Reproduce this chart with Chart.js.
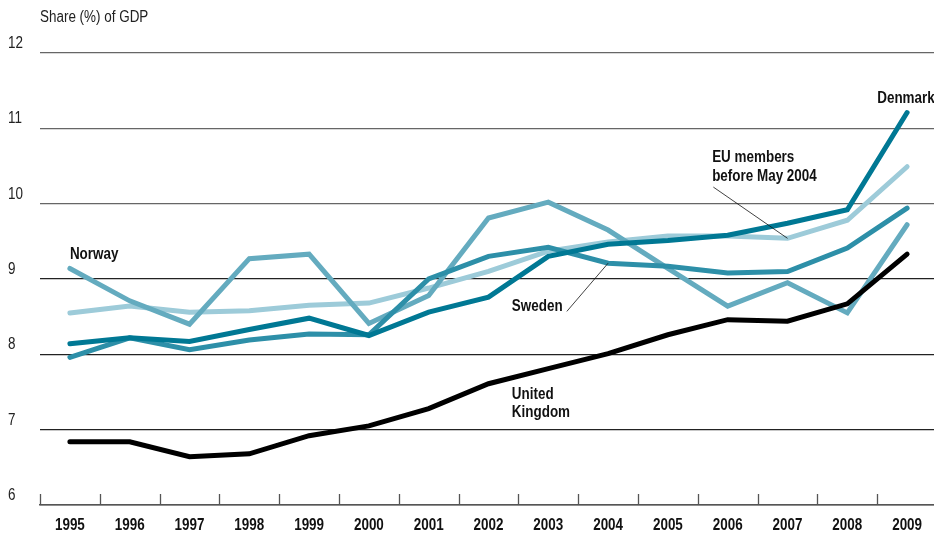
<!DOCTYPE html>
<html>
<head>
<meta charset="utf-8">
<script src="https://cdn.jsdelivr.net/npm/chart.js@4"></script>
<style>
  html, body { margin: 0; padding: 0; overflow: hidden; background: #fff; }
  #wrap { width: 937px; height: 538px; }
</style>
</head>
<body>
<div id="wrap"><canvas id="gdpChart" width="937" height="538"></canvas></div>
<script>
const years = ['1995', '1996', '1997', '1998', '1999', '2000', '2001', '2002',
               '2003', '2004', '2005', '2006', '2007', '2008', '2009'];

const denmark = [8.14, 8.22, 8.17, 8.33, 8.48, 8.25, 8.56, 8.76, 9.30, 9.46, 9.51, 9.58, 9.74, 9.92, 11.21];
const euMembers = [8.55, 8.64, 8.56, 8.58, 8.65, 8.68, 8.88, 9.10, 9.37, 9.49, 9.57, 9.57, 9.54, 9.78, 10.49];
const norway = [9.14, 8.71, 8.40, 9.27, 9.33, 8.41, 8.78, 9.81, 10.02, 9.65, 9.14, 8.64, 8.95, 8.55, 9.72];
const sweden = [7.96, 8.22, 8.06, 8.19, 8.27, 8.26, 9.00, 9.30, 9.42, 9.21, 9.17, 9.08, 9.10, 9.41, 9.94];
const unitedKingdom = [6.84, 6.84, 6.64, 6.68, 6.92, 7.05, 7.28, 7.61, 7.81, 8.01, 8.26, 8.46, 8.44, 8.67, 9.33];

const yTicks = [6, 7, 8, 9, 10, 11, 12];

// condensed look: Arial-metric font squeezed horizontally
const face = "'Liberation Sans', Arial, sans-serif";
const squeeze = 0.84;

// text labels, anchored in data units (category index, value)
const labels = [
    { text: 'Norway', x: 0, y: 9.32 },
    { text: 'Denmark', x: 13.5, y: 11.39 },
    { text: 'EU members', x: 10.74, y: 10.61 },
    { text: 'before May 2004', x: 10.74, y: 10.36 },
    { text: 'Sweden', x: 7.39, y: 8.63 },
    { text: 'United', x: 7.39, y: 7.46 },
    { text: 'Kingdom', x: 7.39, y: 7.22 }
];
const leaders = [
    { from: [10.76, 10.22], to: [12.0, 9.54] },
    { from: [8.31, 8.57], to: [9.0, 9.21] }
];

function text(ctx, str, x, y, align) {
    ctx.save();
    ctx.translate(x, y);
    ctx.scale(squeeze, 1);
    ctx.textAlign = align || 'left';
    ctx.fillText(str, 0, 0);
    ctx.restore();
}

const extras = {
    id: 'extras',
    afterDraw(chart) {
        const ctx = chart.ctx;
        const xs = chart.scales.x;
        const ys = chart.scales.y;
        const area = chart.chartArea;
        ctx.save();
        ctx.textBaseline = 'middle';

        // axis title and y labels
        ctx.fillStyle = '#222';
        ctx.font = '16px ' + face;
        text(ctx, 'Share (%) of GDP', area.left, 18);
        yTicks.forEach(v => text(ctx, String(v), 8, ys.getPixelForValue(v) - 9.5));

        // year labels
        ctx.fillStyle = '#111';
        ctx.font = 'bold 16px ' + face;
        years.forEach((y, i) => text(ctx, y, xs.getPixelForValue(i), 526, 'center'));

        // small ticks between years, pointing up from the axis
        const step = xs.getPixelForValue(1) - xs.getPixelForValue(0);
        ctx.strokeStyle = '#555';
        ctx.lineWidth = 1.3;
        for (let i = 0; i <= years.length; i++) {
            const px = Math.round(xs.getPixelForValue(i) - step / 2) + 0.5;
            ctx.beginPath();
            ctx.moveTo(px, area.bottom - 11);
            ctx.lineTo(px, area.bottom);
            ctx.stroke();
        }

        // leader lines
        ctx.strokeStyle = '#111';
        ctx.lineWidth = 0.8;
        leaders.forEach(l => {
            ctx.beginPath();
            ctx.moveTo(xs.getPixelForValue(l.from[0]), ys.getPixelForValue(l.from[1]));
            ctx.lineTo(xs.getPixelForValue(l.to[0]), ys.getPixelForValue(l.to[1]));
            ctx.stroke();
        });

        // series labels
        ctx.fillStyle = '#111';
        ctx.font = 'bold 16px ' + face;
        labels.forEach(l => text(ctx, l.text, xs.getPixelForValue(l.x), ys.getPixelForValue(l.y)));
        ctx.restore();
    }
};

function series(data, color, width) {
    return {
        data: data,
        borderColor: color,
        borderWidth: width,
        borderCapStyle: 'round',
        borderJoinStyle: 'miter',
        pointRadius: 0,
        tension: 0,
        fill: false
    };
}

new Chart(document.getElementById('gdpChart').getContext('2d'), {
    type: 'line',
    data: {
        labels: years,
        datasets: [
            series(unitedKingdom, '#000000', 5),
            series(denmark, 'rgb(0, 120, 148)', 5),
            series(sweden, 'rgb(45, 143, 168)', 5),
            series(norway, 'rgb(100, 171, 191)', 5),
            series(euMembers, 'rgb(157, 203, 217)', 5)
        ]
    },
    options: {
        responsive: false,
        animation: false,
        devicePixelRatio: 1,
        layout: { padding: { left: 8, top: 53, right: 0, bottom: 0 } },
        plugins: {
            legend: { display: false },
            tooltip: { enabled: false }
        },
        scales: {
            x: {
                offset: true,
                grid: { display: false, drawTicks: false },
                border: { display: true, color: '#555', width: 1.5 },
                ticks: { display: false },
                afterFit(scale) { scale.height = 33; }
            },
            y: {
                min: 6,
                max: 12,
                afterBuildTicks(scale) { scale.ticks = yTicks.map(v => ({ value: v })); },
                grid: {
                    color: c => (c.tick && c.tick.value >= 10) ? '#666' : '#222',
                    lineWidth: 1.3,
                    drawTicks: false
                },
                border: { display: false },
                ticks: { display: false },
                afterFit(scale) { scale.width = 32; }
            }
        }
    },
    plugins: [extras]
});
</script>
</body>
</html>
